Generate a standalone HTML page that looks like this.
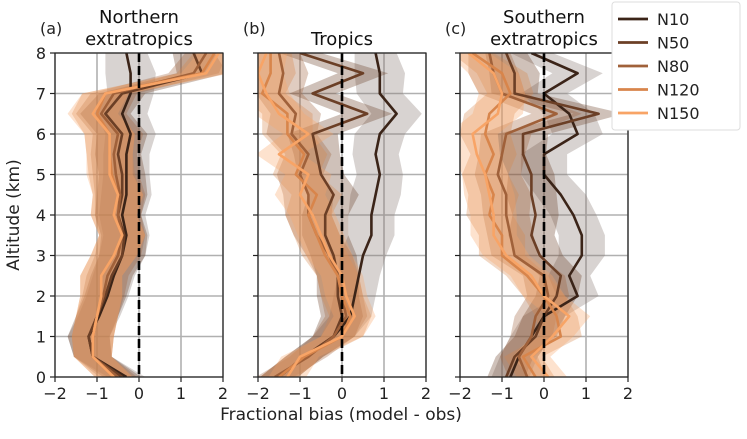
<!DOCTYPE html>
<html><head><meta charset="utf-8"><style>
body{margin:0;background:#fff}
svg text{font-family:"DejaVu Sans","Liberation Sans",sans-serif}
</style></head><body>
<svg id="chart" width="747" height="434" xmlns="http://www.w3.org/2000/svg"></svg>
<script>
const altitudes=[0,0.5,1,1.5,2,2.5,3,3.5,4,4.5,5,5.5,6,6.5,7,7.5,8];
const seriesNames=["N10","N50","N80","N120","N150"];
const xTicks=[-2,-1,0,1,2];
const yTicks=[0,1,2,3,4,5,6,7,8];
const panelATitles=["Northern","extratropics"];
const panelBTitles=["Tropics"];
const panelCTitles=["Southern","extratropics"];
const aN10=[-0.3,-1.1,-1.2,-0.95,-0.75,-0.6,-0.4,-0.3,-0.4,-0.3,-0.3,-0.3,-0.2,-0.4,-0.2,-0.2,-0.3];
const aN50=[-0.4,-1.1,-1.2,-1.0,-0.8,-0.65,-0.4,-0.35,-0.5,-0.4,-0.4,-0.5,-0.4,-0.8,-0.4,1.5,1.3];
const aN80=[-0.5,-1.1,-1.1,-1.0,-0.85,-0.75,-0.5,-0.4,-0.5,-0.45,-0.55,-0.6,-0.5,-0.9,-0.6,1.3,1.6];
const aN120=[-0.6,-1.1,-1.1,-1.0,-0.9,-0.9,-0.6,-0.4,-0.6,-0.5,-0.65,-0.7,-0.7,-1.0,-0.8,1.5,1.8];
const aN150=[-0.6,-1.1,-1.1,-1.0,-0.9,-0.9,-0.6,-0.4,-0.6,-0.5,-0.7,-0.7,-0.7,-1.1,-0.8,1.6,1.9];
const bN10=[-1.5,-0.9,-0.2,0.2,0.3,0.4,0.5,0.7,0.7,0.8,0.9,0.8,0.9,1.3,0.9,0.9,0.8];
const bN50=[-1.5,-0.9,-0.2,0.0,-0.1,-0.1,-0.2,-0.4,-0.4,-0.2,-0.5,-0.6,-0.7,0.6,-0.7,0.5,-1.0];
const bN80=[-1.6,-0.8,-0.2,0.1,0.0,-0.1,-0.3,-0.6,-0.8,-0.8,-1.0,-0.8,-1.2,-1.1,-1.5,-1.4,-1.5];
const bN120=[-1.5,-0.9,0.0,0.2,0.0,-0.1,-0.4,-0.6,-0.8,-0.6,-1.1,-0.9,-1.3,-1.3,-1.9,-1.7,-1.7];
const bN150=[-1.3,-1.0,0.0,0.3,0.1,0.0,-0.3,-0.5,-0.7,-1.0,-0.8,-1.5,-0.8,-1.5,-1.8,-2.0,-1.8];
const cN10=[-0.8,-0.6,-0.3,0.0,0.8,0.6,0.9,0.9,0.7,0.4,0.0,0.0,0.8,0.6,0.0,0.8,-0.3];
const cN50=[-0.9,-0.7,-0.2,0.0,0.3,0.4,-0.1,-0.3,-0.2,-0.3,-0.3,-0.5,-0.5,1.3,-0.7,-0.7,-0.9];
const cN80=[-0.4,-0.6,-0.3,-0.2,0.1,0.0,-0.7,-0.8,-0.9,-0.9,-1.1,-1.0,-0.9,0.3,-1.0,-1.2,-1.3];
const cN120=[-0.2,-0.5,0.4,0.3,0.0,-0.4,-1.0,-1.0,-1.3,-1.2,-1.4,-1.2,-1.4,-1.3,-0.8,-1.0,-1.7];
const cN150=[0.1,-0.3,0.2,0.6,0.0,-0.3,-0.9,-1.2,-1.2,-1.3,-1.4,-1.6,-1.7,-1.1,-1.0,-1.2,-1.8];
const bandHalfWidth=[0.45,0.45,0.5,0.5,0.5,0.5,0.55,0.55,0.55,0.6,0.55,0.55,0.6,0.6,0.55,0.6,0.5];
const colors=["#3b2418","#6b3f26","#a0613a","#d8854b","#f8a466"];
const panels=[
 {id:"a",left:55,right:223,tag:"(a)",titles:panelATitles,data:[aN10,aN50,aN80,aN120,aN150]},
 {id:"b",left:258,right:426,tag:"(b)",titles:panelBTitles,data:[bN10,bN50,bN80,bN120,bN150]},
 {id:"c",left:460,right:628,tag:"(c)",titles:panelCTitles,data:[cN10,cN50,cN80,cN120,cN150]}];
const plotTop=53,plotBottom=377;
const svg=document.getElementById('chart');
const NS="http://www.w3.org/2000/svg";
function mk(tag,attrs,parent){const e=document.createElementNS(NS,tag);for(const k in attrs)e.setAttribute(k,attrs[k]);(parent||svg).appendChild(e);return e;}
const yScale=v=>plotBottom-(v-0)/(8-0)*(plotBottom-plotTop);
panels.forEach(p=>{
 const xs=v=>p.left+(v+2)/4*(p.right-p.left);
 const g=mk('g',{});
 
 
 xTicks.forEach(t=>{const l=mk('line',{x1:xs(t),x2:xs(t),y1:plotTop,y2:plotBottom,stroke:'#b0b0b0','stroke-width':1.6},g);
  
  });
 yTicks.forEach(t=>{const l=mk('line',{x1:p.left,x2:p.right,y1:yScale(t),y2:yScale(t),stroke:'#b0b0b0','stroke-width':1.6},g);
  
  });
 const cp=mk('clipPath',{id:'clip-'+p.id},g);
 mk('rect',{x:p.left,y:plotTop,width:p.right-p.left,height:plotBottom-plotTop},cp);
 const inner=mk('g',{'clip-path':'url(#clip-'+p.id+')'},g);
 p.data.forEach((s,i)=>{
  let pts=s.map((v,k)=>xs(v-bandHalfWidth[k])+','+yScale(altitudes[k]));
  let pts2=s.map((v,k)=>xs(v+bandHalfWidth[k])+','+yScale(altitudes[k])).reverse();
  const b=mk('polygon',{points:pts.concat(pts2).join(' '),fill:i==0?'#8a7a72':colors[i],'fill-opacity':i==0?0.33:0.32},inner);
  
  
 });
 p.data.forEach((s,i)=>{
  const pl=mk('polyline',{points:s.map((v,k)=>xs(v)+','+yScale(altitudes[k])).join(' '),fill:'none',stroke:colors[i],'stroke-width':2.6,'stroke-linejoin':'round'},inner);
  
  
 });
 const z=mk('line',{x1:xs(0),x2:xs(0),y1:plotTop,y2:plotBottom,stroke:'#000','stroke-width':2.6,'stroke-dasharray':'9,4'},g);
 
 
 const fr=mk('rect',{x:p.left,y:plotTop,width:p.right-p.left,height:plotBottom-plotTop,fill:'none',stroke:'#222','stroke-width':1.2},g);
 
 
 xTicks.forEach(t=>{mk('line',{x1:xs(t),x2:xs(t),y1:plotBottom,y2:plotBottom+5,stroke:'#222','stroke-width':1.2},g);
  const tx=mk('text',{x:xs(t),y:plotBottom+22,'font-size':16,'text-anchor':'middle',fill:'#222'},g);tx.textContent=(t<0?'\u2212'+(-t):t);
  
  });
 yTicks.forEach(t=>{mk('line',{x1:p.left-5,x2:p.left,y1:yScale(t),y2:yScale(t),stroke:'#222','stroke-width':1.2},g);
  if(p.id==='a'){const tx=mk('text',{x:p.left-9,y:yScale(t)+6,'font-size':16,'text-anchor':'end',fill:'#222'},g);tx.textContent=t;
  
  }});
 const tg=mk('text',{x:p.left-15,y:34,'font-size':16,fill:'#222'},g);tg.textContent=p.tag;
 
 
 p.titles.forEach((t,k)=>{const y0=p.titles.length==1?45:23+k*22;
  const tt=mk('text',{x:(p.left+p.right)/2,y:y0,'font-size':18,'text-anchor':'middle',fill:'#111'},g);tt.textContent=t;
  
  });
});
const yl=mk('text',{x:0,y:0,'font-size':17,'text-anchor':'middle',fill:'#222',transform:'translate(19,215) rotate(-90)'});yl.textContent='Altitude (km)';


const xl=mk('text',{x:341,y:420,'font-size':17,'text-anchor':'middle',fill:'#222'});xl.textContent='Fractional bias (model - obs)';


const lg=mk('g',{});


mk('rect',{x:612,y:2,width:128,height:128,rx:3,fill:'#fff',stroke:'#ddd'},lg);
seriesNames.forEach((n,i)=>{const y=19+i*23.5;
 const e=mk('g',{},lg);
 
 
 mk('line',{x1:618,x2:648,y1:y,y2:y,stroke:colors[i],'stroke-width':2.8},e);
 const t=mk('text',{x:657,y:y+6,'font-size':16,fill:'#222'},e);t.textContent=n;});
</script>
</body></html>
